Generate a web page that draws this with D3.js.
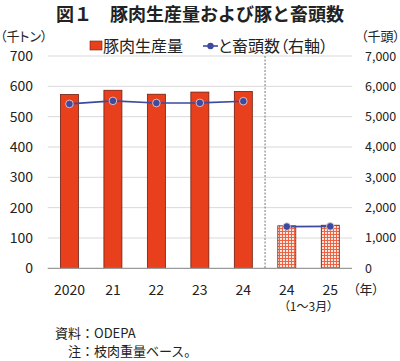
<!DOCTYPE html>
<html><head><meta charset="utf-8">
<script src="https://cdn.jsdelivr.net/npm/d3@7"></script>
<style>
body{margin:0;background:#fff;}
svg text{font-family:"Noto Sans CJK JP","Noto Sans",sans-serif;fill:#222;}
.palt{font-feature-settings:"palt" 1;}
</style></head>
<body><svg id="c" width="400" height="361"></svg>
<script>
const categories = ["2020","21","22","23","24","24","25"];
const production = [573, 587, 574, 581, 583, 140, 142];      // 千トン (left axis)
const slaughter  = [5420, 5520, 5450, 5455, 5510, 1375, 1382]; // 千頭 (right axis)
const partial    = [false,false,false,false,false,true,true]; // 1〜3月
const leftTicks  = [0,100,200,300,400,500,600,700];
const rightTicks = [0,1000,2000,3000,4000,5000,6000,7000];

const svg = d3.select("#c");
const L = 47.7, R = 352, T = 56, B = 268.3;
const idx = categories.map((d,i)=>i);
const pi = 1 - 18/((R-L)/7);
const x = d3.scaleBand().domain(idx).range([L,R]).paddingInner(pi).paddingOuter(pi/2);
const y = d3.scaleLinear().domain([0,700]).range([B,T]);
const y2 = d3.scaleLinear().domain([0,7000]).range([B,T]);

// pattern
const defs = svg.append("defs");
const pat = defs.append("pattern").attr("id","mesh").attr("patternUnits","userSpaceOnUse")
  .attr("width",3).attr("height",3);
pat.append("rect").attr("width",3).attr("height",3).attr("fill","#fde6de");
pat.append("rect").attr("width",3).attr("height",1).attr("fill","#ec6446");
pat.append("rect").attr("width",1).attr("height",3).attr("fill","#ec6446");

// title
svg.append("text").attr("x",200).attr("y",21).attr("text-anchor","middle")
  .attr("font-size",18).attr("font-weight","bold").text("図１　豚肉生産量および豚と畜頭数");

// gridlines
svg.append("g").selectAll("line").data(leftTicks.filter(d=>d>0)).join("line")
  .attr("x1",L).attr("x2",R).attr("y1",d=>y(d)).attr("y2",d=>y(d))
  .attr("stroke","#d9d9d9").attr("stroke-width",1);

// left axis
const ga = svg.append("g").attr("transform",`translate(33,0)`)
  .call(d3.axisLeft(y).tickValues(leftTicks).tickSize(0).tickPadding(0));
ga.select(".domain").remove();
ga.selectAll("text").attr("font-size",14).attr("fill","#222").style("font-family",'"Noto Sans CJK JP"');

// right axis
const gb = svg.append("g").attr("transform",`translate(365,0)`)
  .call(d3.axisRight(y2).tickValues(rightTicks).tickSize(0).tickPadding(0).tickFormat(d3.format(",")));
gb.select(".domain").remove();
gb.selectAll("text").attr("font-size",12.5).attr("fill","#222").style("font-family",'"Noto Sans CJK JP"');

// bars
svg.append("g").selectAll("rect").data(idx).join("rect")
  .attr("x",i=>x(i)).attr("width",x.bandwidth())
  .attr("y",i=>y(production[i])).attr("height",i=>B-y(production[i]))
  .attr("fill",i=>partial[i]?"url(#mesh)":"#e8401c")
  .attr("stroke","#6e1e10").attr("stroke-width",0.8);

// baseline
svg.append("line").attr("x1",L).attr("x2",R).attr("y1",B).attr("y2",B)
  .attr("stroke","#9a9a9a").attr("stroke-width",1.2);

// divider
const divX = x(5) - (x.step()-x.bandwidth())/2;
svg.append("line").attr("x1",divX).attr("x2",divX).attr("y1",T).attr("y2",B)
  .attr("stroke","#777").attr("stroke-width",1).attr("stroke-dasharray","2,1.5");

// line series (two segments)
const cx = i => x(i) + x.bandwidth()/2;
const line = d3.line().x(i=>cx(i)).y(i=>y2(slaughter[i]));
const segs = [idx.filter(i=>!partial[i]), idx.filter(i=>partial[i])];
svg.append("g").selectAll("path").data(segs).join("path")
  .attr("d",line).attr("fill","none").attr("stroke","#3d4aa0").attr("stroke-width",1.6);
svg.append("g").selectAll("circle").data(idx).join("circle")
  .attr("cx",cx).attr("cy",i=>y2(slaughter[i])).attr("r",3.8)
  .attr("fill","#3d4aa0").attr("stroke","#f4d8d0").attr("stroke-width",0.8);

// x labels
svg.append("g").selectAll("text").data(idx).join("text")
  .attr("x",cx).attr("y",295).attr("text-anchor","middle").attr("font-size",14)
  .text(i=>categories[i]);
svg.append("text").attr("class","palt").attr("x",(cx(5)+cx(6))/2).attr("y",311).attr("text-anchor","middle")
  .attr("font-size",12).text("（1〜3月）");
svg.append("text").attr("class","palt").attr("x",353).attr("y",294).attr("font-size",13).text("（年）");

// unit labels
svg.append("text").attr("class","palt").attr("x",0).attr("y",41).attr("font-size",13).text("（千トン）");
svg.append("text").attr("class","palt").attr("x",361).attr("y",41).attr("font-size",13).text("（千頭）");

// legend
svg.append("rect").attr("x",90).attr("y",41).attr("width",12).attr("height",9)
  .attr("fill","#e8401c").attr("stroke","#6e1e10").attr("stroke-width",0.6);
svg.append("text").attr("x",103).attr("y",52).attr("font-size",16).text("豚肉生産量");
svg.append("line").attr("x1",203).attr("x2",218).attr("y1",46).attr("y2",46)
  .attr("stroke","#3d4aa0").attr("stroke-width",1.6);
svg.append("circle").attr("cx",210.5).attr("cy",46).attr("r",3.2).attr("fill","#3d4aa0");
svg.append("text").attr("class","palt").attr("x",218).attr("y",52).attr("font-size",16).text("と畜頭数（右軸）");

// notes
svg.append("text").attr("x",55).attr("y",338).attr("font-size",13).text("資料：ODEPA");
svg.append("text").attr("x",68).attr("y",356).attr("font-size",13).text("注：枝肉重量ベース。");
</script></body></html>
